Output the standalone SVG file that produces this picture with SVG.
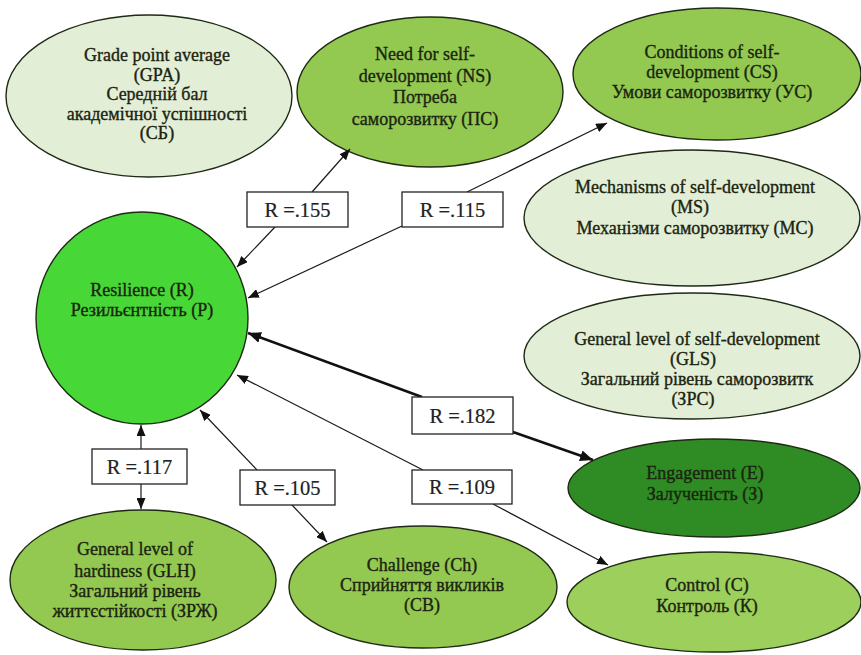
<svg xmlns="http://www.w3.org/2000/svg" width="861" height="655" viewBox="0 0 861 655">
<style>
  .nd { stroke: #1e2a14; stroke-width: 1.4; }
  .light { fill: #e3eed7; }
  .mid { fill: #93c951; }
  .ctl { fill: #9ccf5b; }
  .res { fill: #47d737; }
  .eng { fill: #2f8b24; }
  .t { font-family: "Liberation Serif", "DejaVu Serif", serif; font-size: 18px; fill: #1b2410; stroke: #1b2410; stroke-width: 0.35; text-anchor: middle; }
  .ln { stroke: #1a1a1a; stroke-width: 1.2; fill: none; }
  .thick { stroke: #111; stroke-width: 2.6; fill: none; }
  .box { fill: #ffffff; stroke: #222; stroke-width: 1.3; }
  .lt { font-family: "Liberation Serif", "DejaVu Serif", serif; font-size: 20.5px; fill: #222; stroke: #222; stroke-width: 0.2; text-anchor: middle; }
</style>
<defs>
  <marker id="ah" markerUnits="userSpaceOnUse" markerWidth="11" markerHeight="9" refX="11" refY="4.5" orient="auto">
    <path d="M0,0 L11,4.5 L0,9 z" fill="#111"/>
  </marker>
  <marker id="ahb" markerUnits="userSpaceOnUse" markerWidth="13" markerHeight="11" refX="13" refY="5.5" orient="auto">
    <path d="M0,0 L13,5.5 L0,11 z" fill="#111"/>
  </marker>
</defs>
<rect width="861" height="655" fill="#ffffff"/>

<g id="gpa">
  <ellipse class="nd light" cx="149" cy="96" rx="143" ry="81"/>
  <text class="t" x="157" y="61">Grade point average</text>
  <text class="t" x="157" y="80.5">(GPA)</text>
  <text class="t" x="157" y="100">Середній бал</text>
  <text class="t" x="157" y="119.5">академічної успішності</text>
  <text class="t" x="157" y="139">(СБ)</text>
</g>
<g id="ns">
  <ellipse class="nd mid" cx="430" cy="92" rx="133" ry="75"/>
  <text class="t" x="425" y="60">Need for self-</text>
  <text class="t" x="425" y="82">development (NS)</text>
  <text class="t" x="425" y="103">Потреба</text>
  <text class="t" x="425" y="125">саморозвитку (ПС)</text>
</g>
<g id="cs">
  <ellipse class="nd mid" cx="717" cy="74" rx="144" ry="66"/>
  <text class="t" x="712" y="58">Conditions of self-</text>
  <text class="t" x="712" y="78">development (CS)</text>
  <text class="t" x="712" y="97.5">Умови саморозвитку (УС)</text>
</g>
<g id="ms">
  <ellipse class="nd light" cx="692" cy="218" rx="168" ry="68"/>
  <text class="t" x="695" y="193">Mechanisms of self-development</text>
  <text class="t" x="690" y="213">(MS)</text>
  <text class="t" x="695" y="234">Механізми саморозвитку (МС)</text>
</g>
<g id="gls">
  <ellipse class="nd light" cx="692" cy="356" rx="168" ry="63"/>
  <text class="t" x="697" y="345">General level of self-development</text>
  <text class="t" x="693" y="365">(GLS)</text>
  <text class="t" x="697" y="385">Загальний рівень саморозвитк</text>
  <text class="t" x="693" y="405">(ЗРС)</text>
</g>
<g id="resilience">
  <circle class="nd res" cx="142" cy="318" r="106"/>
  <text class="t" x="142" y="296">Resilience (R)</text>
  <text class="t" x="142" y="316">Резильєнтність (Р)</text>
</g>
<g id="engagement">
  <ellipse class="nd eng" cx="714" cy="488" rx="146" ry="49"/>
  <text class="t" x="705" y="479">Engagement (E)</text>
  <text class="t" x="705" y="500">Залученість (З)</text>
</g>
<g id="control">
  <ellipse class="nd ctl" cx="714" cy="602" rx="147" ry="50"/>
  <text class="t" x="707" y="591">Control (C)</text>
  <text class="t" x="707" y="612">Контроль (К)</text>
</g>
<g id="challenge">
  <ellipse class="nd mid" cx="423" cy="587" rx="134" ry="61"/>
  <text class="t" x="422" y="571">Challenge (Ch)</text>
  <text class="t" x="422" y="591">Сприйняття викликів</text>
  <text class="t" x="422" y="611">(СВ)</text>
</g>
<g id="glh">
  <ellipse class="nd mid" cx="143" cy="580" rx="133" ry="70"/>
  <text class="t" x="135" y="555">General level of</text>
  <text class="t" x="135" y="577">hardiness (GLH)</text>
  <text class="t" x="135" y="597">Загальний рівень</text>
  <text class="t" x="135" y="617">життєстійкості (ЗРЖ)</text>
</g>

<g id="connectors">
  <line class="ln" x1="275" y1="227" x2="237" y2="267" marker-end="url(#ah)"/>
  <line class="ln" x1="312" y1="192" x2="350" y2="149" marker-end="url(#ah)"/>
  <line class="ln" x1="402" y1="226" x2="248" y2="298" marker-end="url(#ah)"/>
  <line class="ln" x1="467" y1="192" x2="607" y2="123" marker-end="url(#ah)"/>
  <line class="thick" x1="422" y1="397" x2="248" y2="333" marker-end="url(#ahb)"/>
  <line class="thick" x1="513" y1="432" x2="593" y2="460" marker-end="url(#ahb)"/>
  <line class="ln" x1="423" y1="470" x2="237" y2="375" marker-end="url(#ah)"/>
  <line class="ln" x1="493" y1="504" x2="608" y2="565" marker-end="url(#ah)"/>
  <line class="ln" x1="257" y1="470" x2="200" y2="410" marker-end="url(#ah)"/>
  <line class="ln" x1="292" y1="505" x2="327" y2="542" marker-end="url(#ah)"/>
  <line class="ln" x1="141" y1="449" x2="141" y2="425" marker-end="url(#ah)"/>
  <line class="ln" x1="141" y1="484" x2="141" y2="509" marker-end="url(#ah)"/>

  <g id="lbl155"><rect class="box" x="247" y="192" width="101" height="35"/><text class="lt" x="297.5" y="217">R =.155</text></g>
  <g id="lbl115"><rect class="box" x="402" y="192" width="101" height="35"/><text class="lt" x="452.5" y="217">R =.115</text></g>
  <g id="lbl182"><rect class="box" x="412" y="397" width="101" height="37"/><text class="lt" x="462.5" y="423">R =.182</text></g>
  <g id="lbl105"><rect class="box" x="240" y="470" width="95" height="35"/><text class="lt" x="287.5" y="495">R =.105</text></g>
  <g id="lbl109"><rect class="box" x="412" y="470" width="100" height="34"/><text class="lt" x="462" y="494">R =.109</text></g>
  <g id="lbl117"><rect class="box" x="92" y="449" width="95" height="35"/><text class="lt" x="139.5" y="474">R =.117</text></g>
</g>
</svg>
